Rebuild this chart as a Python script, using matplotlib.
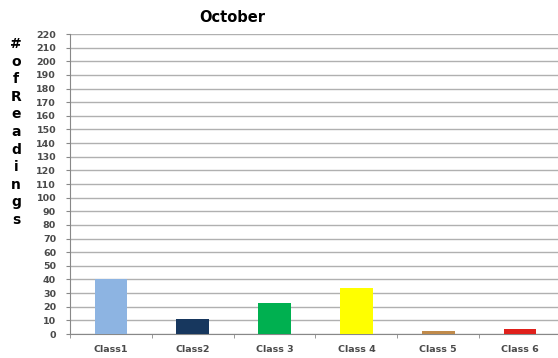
import numpy as np
import matplotlib.pyplot as plt

# readings per class for the month
classes = ['Class1', 'Class2', 'Class 3', 'Class 4', 'Class 5', 'Class 6']
readings = [40, 11, 23, 34, 2, 4]
bar_colors = ['#8db4e2', '#17375e', '#00b050', '#ffff00', '#c08a4a', '#e0201b']

y_ticks = np.arange(0, 221, 10)
ylabel_chars = ['#', 'o', 'f', 'R', 'e', 'a', 'd', 'i', 'n', 'g', 's']

fig = plt.figure(figsize=(5.58, 3.58), dpi=100)
ax = fig.add_axes([0.1254, 0.067, 0.88, 0.838])

x = np.arange(len(classes))
ax.bar(x, readings, width=0.4, color=bar_colors, zorder=3)

ax.set_xlim(-0.5, len(classes) - 0.5)
ax.set_ylim(0, 220)
ax.set_yticks(y_ticks)
ax.set_yticklabels([str(v) for v in y_ticks], fontsize=6.8, color='#4a4a4a',
                   family='DejaVu Sans', fontweight='bold')
ax.yaxis.grid(True, color='#b0b0b0', linewidth=1.0, zorder=0)

# category labels sit between tick marks at the boundaries
ax.set_xticks(x)
ax.set_xticklabels(classes, fontsize=6.8, color='#4a4a4a', family='DejaVu Sans',
                   fontweight='bold')
ax.tick_params(axis='x', length=0, pad=8)
ax.set_xticks(np.arange(-0.5, len(classes) + 0.5, 1), minor=True)
ax.tick_params(axis='x', which='minor', length=3, color='#888888')
ax.tick_params(axis='y', length=3, color='#888888', pad=7)

for side in ['top', 'right']:
    ax.spines[side].set_visible(False)
ax.spines['left'].set_color('#888888')
ax.spines['bottom'].set_color('#888888')

fig.text(0.416, 0.95, 'October', fontsize=10.5, fontweight='heavy',
         ha='center', va='center', family='DejaVu Sans')

# stacked vertical axis title
y0 = 1 - 44 / 358
step = 17.6 / 358
for i, ch in enumerate(ylabel_chars):
    fig.text(0.029, y0 - i * step, ch, fontsize=10, fontweight='heavy',
             ha='center', va='center', family='DejaVu Sans')

fig.savefig('out.png', dpi=100)
